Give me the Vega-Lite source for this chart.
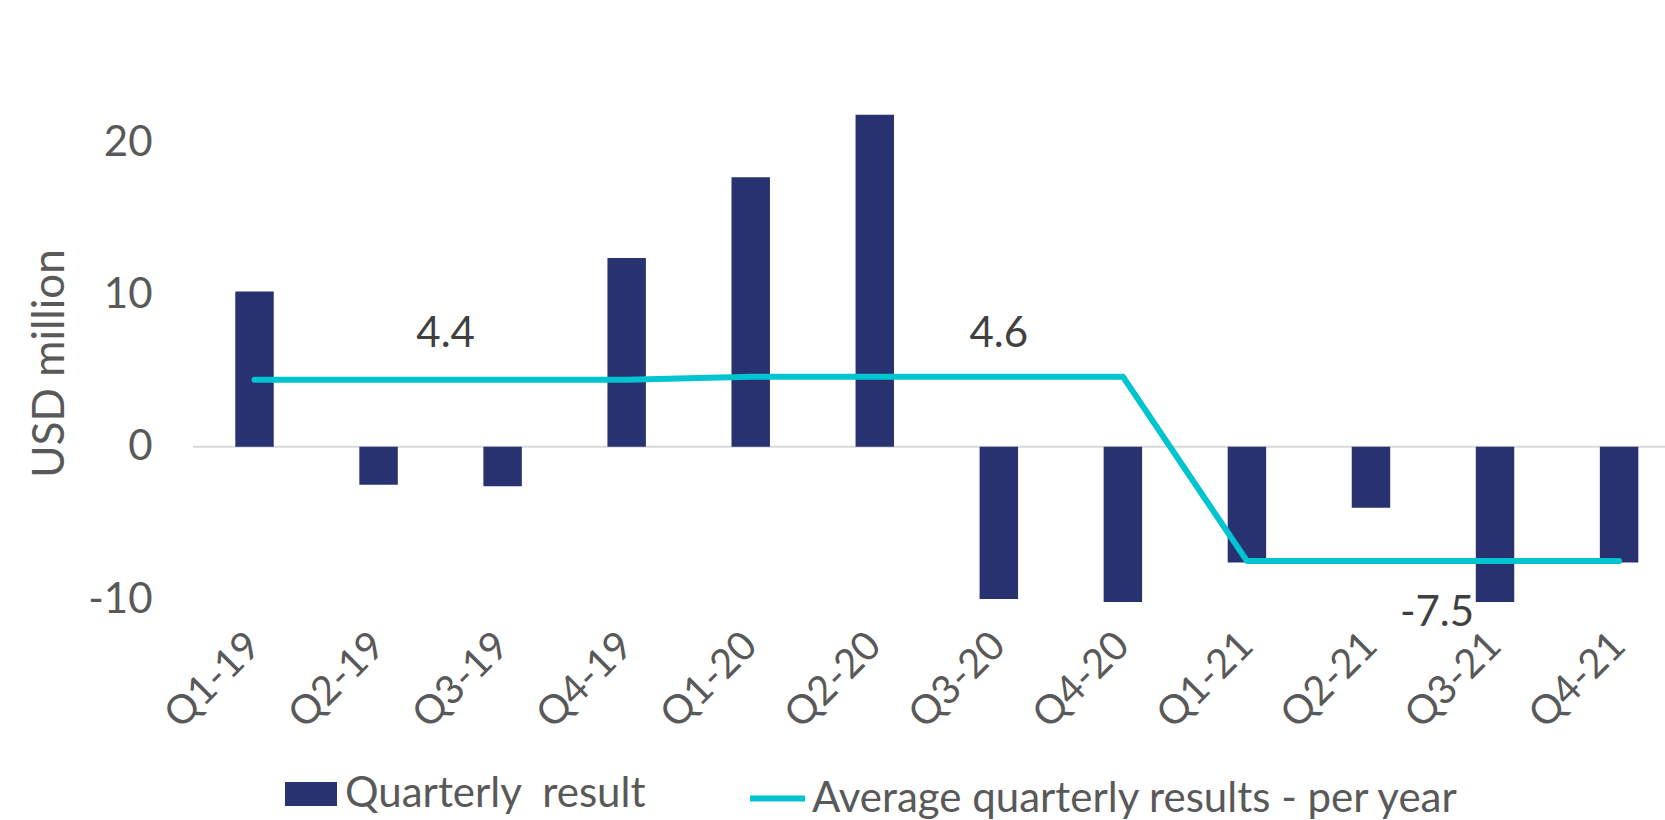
{
  "$schema": "https://vega.github.io/schema/vega-lite/v6.json",
  "autosize": {"type": "none"},
  "width": 1472,
  "height": 533,
  "padding": {"left": 193, "top": 66, "right": 0, "bottom": 221},
  "background": "white",
  "config": {
    "view": {"stroke": null},
    "font": "Lato",
    "text": {"font": "Lato"}
  },
  "data": {
    "values": [
      {"quarter": "Q1-19", "result": 10.2, "avg": 4.4},
      {"quarter": "Q2-19", "result": -2.5, "avg": 4.4},
      {"quarter": "Q3-19", "result": -2.6, "avg": 4.4, "label": "4.4"},
      {"quarter": "Q4-19", "result": 12.4, "avg": 4.4},
      {"quarter": "Q1-20", "result": 17.7, "avg": 4.6},
      {"quarter": "Q2-20", "result": 21.8, "avg": 4.6},
      {"quarter": "Q3-20", "result": -10.0, "avg": 4.6, "label": "4.6"},
      {"quarter": "Q4-20", "result": -10.2, "avg": 4.6},
      {"quarter": "Q1-21", "result": -7.6, "avg": -7.5},
      {"quarter": "Q2-21", "result": -4.0, "avg": -7.5},
      {"quarter": "Q3-21", "result": -10.2, "avg": -7.5, "label": "-7.5"},
      {"quarter": "Q4-21", "result": -7.6, "avg": -7.5}
    ]
  },
  "encoding": {
    "x": {
      "field": "quarter",
      "type": "nominal",
      "sort": null,
      "scale": {"paddingInner": 0.69, "paddingOuter": 0.278, "align": 0.613},
      "axis": {
        "title": null,
        "labelAngle": -45,
        "labelAlign": "right",
        "labelBaseline": "middle",
        "labelPadding": 40,
        "labelFontSize": 40,
        "labelColor": "#595959",
        "ticks": false,
        "domain": false,
        "grid": false
      }
    }
  },
  "layer": [
    {
      "mark": {"type": "rule", "color": "#d9d9d9", "strokeWidth": 2},
      "data": {"values": [{"zero": 0}]},
      "encoding": {
        "x": null,
        "y": {"field": "zero", "type": "quantitative", "scale": {"domain": [-10, 25], "nice": false}}
      }
    },
    {
      "mark": {"type": "bar"},
      "encoding": {
        "y": {
          "field": "result",
          "type": "quantitative",
          "scale": {"domain": [-10, 25], "nice": false, "zero": false},
          "axis": {
            "values": [-10, 0, 10, 20],
            "labelExpr": "'' + datum.value",
            "ticks": false,
            "domain": false,
            "grid": false,
            "labelPadding": 41,
            "labelFontSize": 42,
            "labelColor": "#595959",
            "title": "USD million",
            "titleFontSize": 44,
            "titleFontWeight": "normal",
            "titleColor": "#595959",
            "titleAngle": -90,
            "titleAlign": "center",
            "titleBaseline": "middle",
            "titleX": -143,
            "titleY": 297
          }
        },
        "color": {
          "datum": "Quarterly\u00a0 result",
          "type": "nominal",
          "scale": {"range": ["#283270"]},
          "legend": {
            "title": null,
            "orient": "none",
            "legendX": 92,
            "legendY": 702,
            "padding": 0,
            "symbolType": "M-1,-0.46H1V0.46H-1Z",
            "symbolSize": 2704,
            "symbolStrokeWidth": 0,
            "labelFontSize": 42,
            "labelColor": "#595959",
            "labelOffset": 8,
            "labelLimit": 1000,
            "labelFont": "Lato"
          }
        }
      }
    },
    {
      "mark": {"type": "line", "strokeWidth": 6, "strokeCap": "round", "strokeJoin": "round"},
      "encoding": {
        "y": {"field": "avg", "type": "quantitative"},
        "stroke": {
          "datum": "Average quarterly results - per year",
          "type": "nominal",
          "scale": {"range": ["#00c4cf"]},
          "legend": {
            "title": null,
            "orient": "none",
            "legendX": 554,
            "legendY": 702,
            "padding": 0,
            "symbolType": "stroke",
            "symbolSize": 3025,
            "symbolStrokeWidth": 6,
            "labelFontSize": 42,
            "labelColor": "#595959",
            "labelOffset": 4,
            "labelLimit": 1000,
            "labelFont": "Lato"
          }
        }
      }
    },
    {
      "transform": [{"filter": "datum.label === '4.4'"}],
      "mark": {"type": "text", "fontSize": 42, "color": "#404040", "dx": -57, "dy": -46, "baseline": "middle"},
      "encoding": {"y": {"field": "avg", "type": "quantitative"}, "text": {"field": "label"}}
    },
    {
      "transform": [{"filter": "datum.label === '4.6'"}],
      "mark": {"type": "text", "fontSize": 42, "color": "#404040", "dx": 0, "dy": -43, "baseline": "middle"},
      "encoding": {"y": {"field": "avg", "type": "quantitative"}, "text": {"field": "label"}}
    },
    {
      "transform": [{"filter": "datum.label === '-7.5'"}],
      "mark": {"type": "text", "fontSize": 42, "color": "#404040", "dx": -58, "dy": 52, "baseline": "middle"},
      "encoding": {"y": {"field": "avg", "type": "quantitative"}, "text": {"field": "label"}}
    }
  ],
  "resolve": {"scale": {"y": "shared"}}
}
